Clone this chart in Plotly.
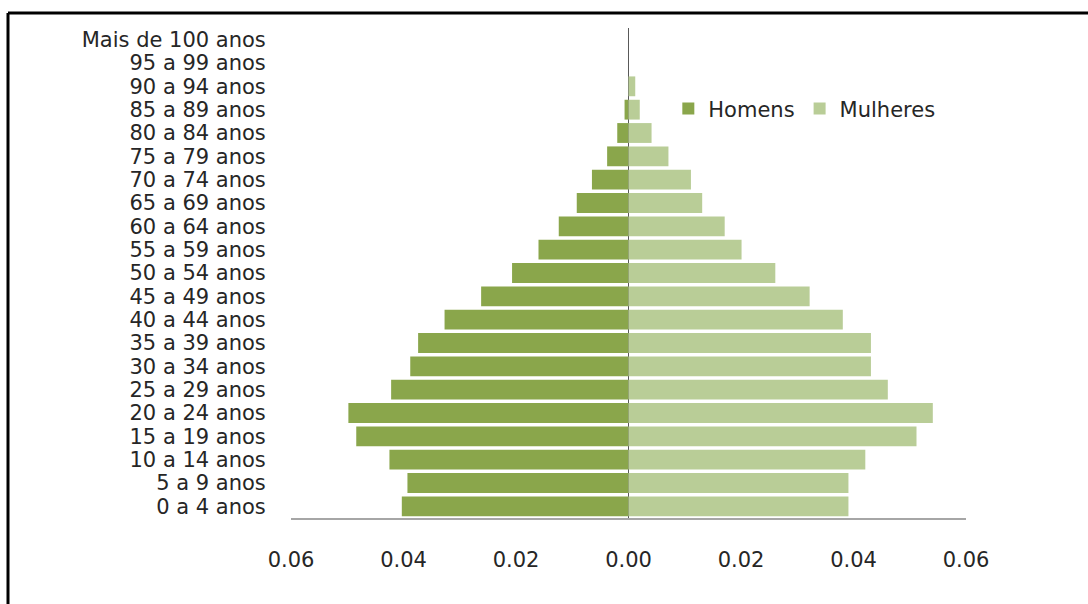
import plotly.graph_objects as go

# Age groups, youngest first (bottom of the pyramid)
faixas = [
    "0 a 4 anos", "5 a 9 anos", "10 a 14 anos", "15 a 19 anos", "20 a 24 anos",
    "25 a 29 anos", "30 a 34 anos", "35 a 39 anos", "40 a 44 anos", "45 a 49 anos",
    "50 a 54 anos", "55 a 59 anos", "60 a 64 anos", "65 a 69 anos", "70 a 74 anos",
    "75 a 79 anos", "80 a 84 anos", "85 a 89 anos", "90 a 94 anos", "95 a 99 anos",
    "Mais de 100 anos",
]

# Share of total population per age group
homens = [
    0.0403, 0.0393, 0.0425, 0.0484, 0.0498,
    0.0422, 0.0388, 0.0374, 0.0327, 0.0262,
    0.0207, 0.0160, 0.0124, 0.0092, 0.0065,
    0.0038, 0.0020, 0.0007, 0.0000, 0.0000,
    0.0000,
]
mulheres = [
    0.0391, 0.0391, 0.0421, 0.0512, 0.0541,
    0.0461, 0.0431, 0.0431, 0.0381, 0.0322,
    0.0261, 0.0201, 0.0171, 0.0131, 0.0111,
    0.0071, 0.0041, 0.0020, 0.0012, 0.0000,
    0.0000,
]

tick_vals = [-0.06, -0.04, -0.02, 0.0, 0.02, 0.04, 0.06]
tick_text = ["0.06", "0.04", "0.02", "0.00", "0.02", "0.04", "0.06"]

COR_HOMENS = "#8aa64b"
COR_MULHERES = "#b9cd97"
FONTE = "'DejaVu Sans', sans-serif"
TXT = "#262626"

W, H = 1088, 604
M_L, M_R, M_T, M_B = 291, 122, 28, 86

fig = go.Figure()
fig.add_trace(go.Bar(
    y=faixas, x=[-v for v in homens], orientation="h", name="Homens",
    marker=dict(color=COR_HOMENS, line=dict(width=0)), hoverinfo="skip",
))
fig.add_trace(go.Bar(
    y=faixas, x=mulheres, orientation="h", name="Mulheres",
    marker=dict(color=COR_MULHERES, line=dict(width=0)), hoverinfo="skip",
))

# Outer frame (left and top edges)
pw = W - M_L - M_R
ph = H - M_T - M_B
x_frame = (8 - M_L) / pw
y_frame = (H - M_B - 13) / ph
fig.add_shape(type="line", xref="paper", yref="paper",
              x0=x_frame, x1=x_frame, y0=y_frame, y1=-(H - M_B + 10) / ph,
              line=dict(color="black", width=3))
fig.add_shape(type="line", xref="paper", yref="paper",
              x0=x_frame, x1=(W + 10 - M_L) / pw, y0=y_frame, y1=y_frame,
              line=dict(color="black", width=3))

fig.update_layout(
    width=W, height=H,
    margin=dict(l=M_L, r=M_R, t=M_T, b=M_B, autoexpand=False),
    paper_bgcolor="white", plot_bgcolor="white",
    barmode="relative", bargap=0.15,
    font=dict(family=FONTE, size=21, color=TXT),
    showlegend=True,
    legend=dict(
        orientation="h", x=0.559, y=0.835, xanchor="left", yanchor="middle",
        font=dict(family=FONTE, size=21, color=TXT),
        bgcolor="rgba(0,0,0,0)", itemwidth=30, traceorder="normal",
    ),
    xaxis=dict(
        range=[-0.06, 0.06], tickvals=tick_vals, ticktext=tick_text,
        showgrid=False, zeroline=True, zerolinecolor="#595959", zerolinewidth=1,
        showline=True, linecolor="#a6a6a6", linewidth=1.5,
        ticks="outside", ticklen=22, tickcolor="rgba(0,0,0,0)",
        tickfont=dict(family=FONTE, size=21, color=TXT),
        layer="above traces", fixedrange=True,
    ),
    yaxis=dict(
        categoryorder="array", categoryarray=faixas,
        tickmode="array", tickvals=faixas, ticktext=faixas,
        showgrid=False, zeroline=False, showline=False,
        ticks="outside", ticklen=20, tickcolor="rgba(0,0,0,0)",
        tickfont=dict(family=FONTE, size=21, color=TXT),
        fixedrange=True,
    ),
)

fig.write_html("out.html")
